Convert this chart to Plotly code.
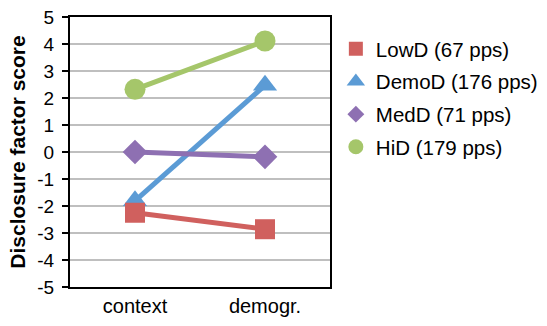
import plotly.graph_objects as go

categories = ["context", "demogr."]
series_names = ["LowD (67 pps)", "DemoD (176 pps)", "MedD (71 pps)", "HiD (179 pps)"]
lowd = [-2.25, -2.86]
demod = [-1.81, 2.47]
medd = [0.0, -0.18]
hid = [2.32, 4.11]
y_ticks = [5, 4, 3, 2, 1, 0, -1, -2, -3, -4, -5]

colors = ["#D0605E", "#5B9BD5", "#8E70B2", "#A5C66A"]
symbols = ["square", "triangle-up", "diamond", "circle"]
sizes = [20, 21, 19, 21]
legend_sizes = [14, 16, 13, 15]
values = [lowd, demod, medd, hid]

fig = go.Figure()
draw_order = [1, 0, 2, 3]
for i in draw_order:
    fig.add_trace(go.Scatter(
        x=categories, y=values[i], mode="lines+markers",
        line=dict(color=colors[i], width=5),
        marker=dict(symbol=symbols[i], size=sizes[i], color=colors[i]),
        showlegend=False, name=series_names[i],
    ))
for i in range(4):
    fig.add_trace(go.Scatter(
        x=[None], y=[None], mode="markers", name=series_names[i],
        marker=dict(symbol=symbols[i], size=legend_sizes[i], color=colors[i]),
        legendgroup=str(i),
    ))

fig.update_layout(
    width=547, height=326,
    margin=dict(l=70, r=217, t=17, b=39),
    paper_bgcolor="white", plot_bgcolor="white",
    font=dict(family="Liberation Sans, Arial", size=20, color="black"),
    showlegend=True,
    legend=dict(xref="container", yref="container", x=0.614, y=0.911,
                xanchor="left", yanchor="top",
                tracegroupgap=3, font=dict(size=20.5),
                itemwidth=30, bgcolor="rgba(0,0,0,0)"),
)
fig.update_xaxes(
    type="category", range=[-0.5, 1.5], automargin=False,
    showline=True, linecolor="black", linewidth=2, mirror=True,
    showgrid=False, ticks="", tickfont=dict(size=20),
)
fig.update_yaxes(
    range=[-5, 5], tickvals=y_ticks, ticktext=[str(v) for v in y_ticks],
    automargin=False,
    showline=True, linecolor="black", linewidth=2, mirror=True,
    showgrid=True, gridcolor="#BFBFBF", gridwidth=1.5,
    ticks="outside", ticklen=6, tickcolor="black", tickwidth=1.5,
    ticklabelstandoff=4,
    zeroline=False, tickfont=dict(size=19),
    title=dict(text="<b>Disclosure factor score</b>", font=dict(size=21), standoff=6),
)

fig.write_html("out.html", config={"displayModeBar": False},
               post_script="document.body.style.margin='0';")
